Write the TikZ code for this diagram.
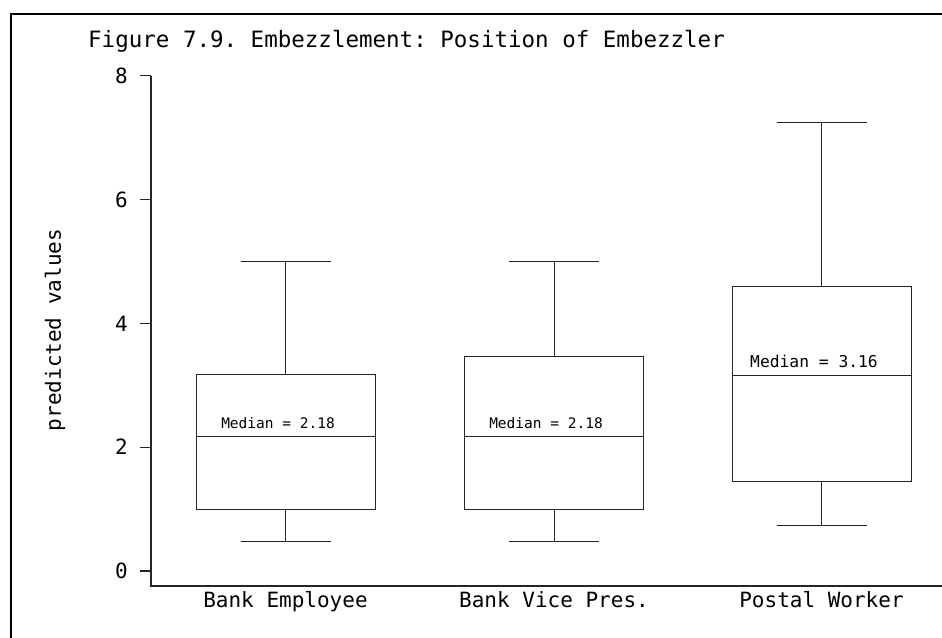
\documentclass[tikz,border=0pt]{standalone}
\usepackage{fontspec}
\setmonofont{DejaVu Sans Mono}
\usetikzlibrary{positioning}

\tikzset{
  axisline/.style={line width=1.3pt, black!85},
  boxline/.style={line width=0.9pt, black!85},
  catlabel/.style={font=\ttfamily\fontsize{21}{21}\selectfont, anchor=base, inner sep=0pt},
  ticklabel/.style={font=\ttfamily\fontsize{21}{21}\selectfont, anchor=east, inner sep=0pt},
  medlabel/.style={font=\ttfamily\fontsize{14.5}{14.5}\selectfont, anchor=base, inner sep=0pt},
}

\begin{document}
\begin{tikzpicture}[x=1pt,y=1pt]
\useasboundingbox (0,0) rectangle (942,637);
% frame
\draw[line width=2pt] (11,-5) -- (11,623) -- (947,623);
\node[anchor=base west, inner sep=0pt, font=\ttfamily\fontsize{22.5}{22.5}\selectfont] (title) at (88,589)
  {Figure 7.9. Embezzlement: Position of Embezzler};
\node[rotate=90, font=\ttfamily\fontsize{21}{21}\selectfont] (ylabel) at (55,307) {predicted values};
\begin{scope}[yshift=66pt, y=61.9pt]
  % axes
  \coordinate (ytop) at (151,8);
  \coordinate (origin) at (151,-0.24);
  \coordinate (xend) at (942,-0.24);
  \draw[axisline] (ytop) -- (origin) -- (xend);
  \foreach \v in {0,2,4,6,8}{
    \coordinate (t\v) at (151,\v);
    \draw[axisline] (t\v) -- ++(-11pt,0);
    \node[ticklabel] (tick\v) at (128,\v) {\v};
  }
  % boxes: name/centre/lower whisker/q1/median/q3/upper whisker
  \foreach \n/\cx/\lo/\qa/\md/\qb/\hi in
    {emp/285.5/0.47/1.0/2.18/3.17/5.0,
     vp/554/0.47/1.0/2.18/3.46/5.0,
     post/821.5/0.73/1.44/3.16/4.59/7.24}{
    \coordinate (\n-q1) at (\cx-89.5,\qa);
    \coordinate (\n-q3) at (\cx+89.5,\qb);
    \coordinate (\n-ml) at (\cx-89.5,\md);
    \coordinate (\n-mr) at (\cx+89.5,\md);
    \coordinate (\n-top) at (\cx,\qb);
    \coordinate (\n-hi) at (\cx,\hi);
    \coordinate (\n-bot) at (\cx,\qa);
    \coordinate (\n-lo) at (\cx,\lo);
    \draw[boxline] (\n-q1) rectangle (\n-q3);
    \draw[boxline] (\n-ml) -- (\n-mr);
    \draw[boxline] (\n-top) -- (\n-hi);
    \draw[boxline] (\n-bot) -- (\n-lo);
    \draw[boxline] ([xshift=-45pt]\n-hi) -- ([xshift=45pt]\n-hi);
    \draw[boxline] ([xshift=-45pt]\n-lo) -- ([xshift=45pt]\n-lo);
  }
  \node[medlabel, yshift=8pt] (medemp) at (278,2.18) {Median = 2.18};
  \node[medlabel, yshift=8pt] (medvp) at (546,2.18) {Median = 2.18};
  \node[medlabel, yshift=8pt, font=\ttfamily\fontsize{16.3}{16.3}\selectfont] (medpost) at (814,3.16) {Median = 3.16};
\end{scope}
% category labels
\node[catlabel] (catemp) at (285.5,30) {Bank Employee};
\node[catlabel] (catvp) at (554,30) {Bank Vice Pres.};
\node[catlabel] (catpost) at (821.5,30) {Postal Worker};
\end{tikzpicture}
\end{document}
